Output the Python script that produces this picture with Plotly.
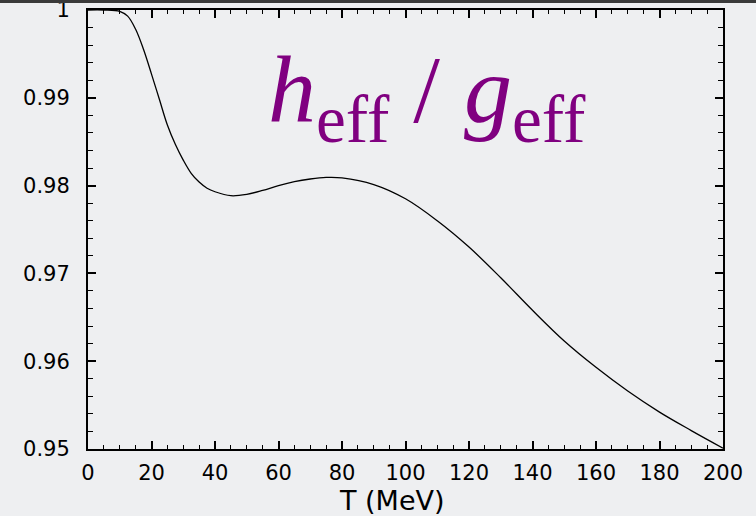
import plotly.graph_objects as go

# Data
T_MeV = [0, 5, 10, 12.5, 15, 17.5, 20, 22.5, 25, 27.5, 30, 32.5, 35, 37.5, 40, 45, 50,
         55, 60, 65, 70, 75, 80, 90, 100, 110, 120, 130, 140, 150, 160, 170, 180, 190, 200]
ratio = [1.0, 1.0, 0.99985, 0.9993, 0.9978, 0.9955, 0.9927, 0.9898, 0.9869, 0.9847,
         0.9829, 0.9814, 0.9804, 0.9797, 0.9793, 0.97885, 0.9790, 0.97945, 0.9800,
         0.98045, 0.98075, 0.98093, 0.98088, 0.98012, 0.9785, 0.9760, 0.9730, 0.9695,
         0.9658, 0.9623, 0.9593, 0.9566, 0.9542, 0.9521, 0.9501]
x_ticks = [0, 20, 40, 60, 80, 100, 120, 140, 160, 180, 200]
y_ticks = [0.95, 0.96, 0.97, 0.98, 0.99, 1.0]
y_tick_labels = ["0.95", "0.96", "0.97", "0.98", "0.99", "1"]

BG = "#eeeff1"
FONT = "DejaVu Sans"

fig = go.Figure()
fig.add_trace(go.Scatter(x=T_MeV, y=ratio, mode="lines",
                         line=dict(color="black", width=1.3, shape="spline", smoothing=1.0),
                         hoverinfo="skip", showlegend=False))

axis_common = dict(showgrid=False, zeroline=False, showline=True, linecolor="black",
                   linewidth=2, mirror="ticks", ticks="inside", tickcolor="black",
                   automargin=False, ticklabeloverflow="allow",
                   tickfont=dict(family=FONT, size=21, color="black"))

fig.update_xaxes(range=[0, 200], tickvals=x_ticks, ticklen=8, tickwidth=1.5,
                 minor=dict(dtick=5, ticks="inside", ticklen=4, tickcolor="black", tickwidth=1.2),
                 ticklabelstandoff=4, **axis_common)
fig.update_yaxes(range=[0.95, 1.0], tickvals=y_ticks, ticktext=y_tick_labels,
                 ticklen=8, tickwidth=1.5,
                 minor=dict(dtick=0.002, ticks="inside", ticklen=5, tickcolor="black", tickwidth=1.2),
                 ticklabelstandoff=12, **axis_common)

fig.update_layout(
    width=756, height=516,
    margin=dict(l=88, r=33, t=10, b=67, autoexpand=False),
    paper_bgcolor=BG, plot_bgcolor=BG,
    annotations=[
        dict(text="T (MeV)", xref="paper", yref="paper", x=(392 - 88) / 635,
             y=(449 - 500) / 439, xanchor="center", yanchor="middle", showarrow=False,
             font=dict(family=FONT, size=27, color="black")),
        dict(text="<i>h</i><sub>eff</sub> / <i>g</i><sub>eff</sub>", xref="paper", yref="paper",
             x=(427 - 88) / 635, y=1 - (96 - 10) / 439, xanchor="center", yanchor="middle",
             showarrow=False, font=dict(family="Liberation Serif", size=96, color="#800080")),
    ],
    shapes=[
        dict(type="rect", xref="paper", yref="paper", x0=-0.2, x1=1.1,
             y0=1 + (10 - 3) / 439, y1=1 + 10 / 439 + 0.01, fillcolor="#3a3a3a",
             line=dict(width=0), layer="above"),
    ],
)

fig.write_html("out.html")
